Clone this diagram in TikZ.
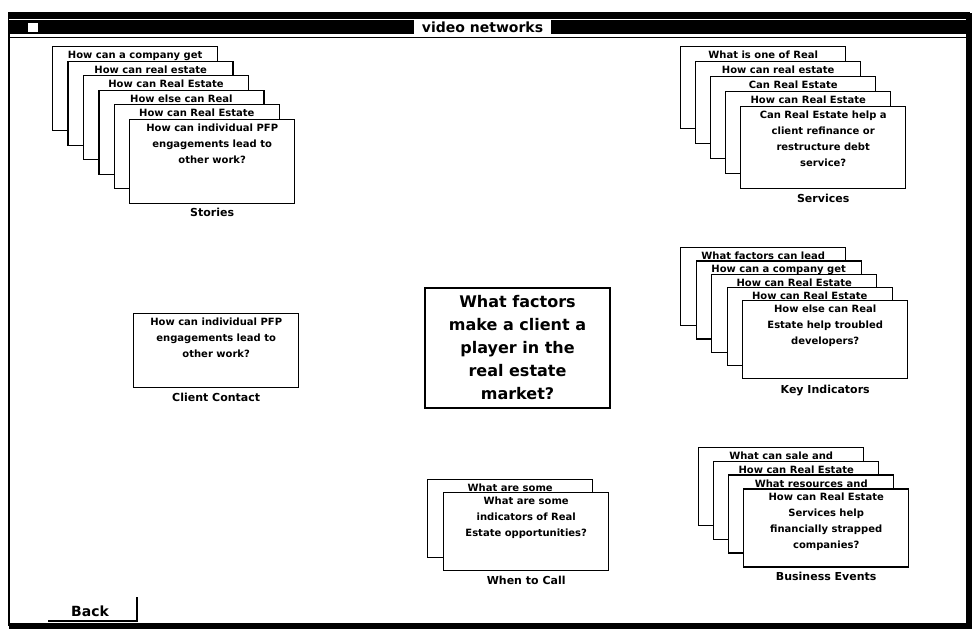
\documentclass[tikz,border=0pt]{standalone}
\usepackage{fontspec}
\setmainfont{DejaVu Sans}
\usetikzlibrary{positioning}
\tikzset{
  card/.style={draw,line width=1.4pt,fill=white,inner xsep=2pt,inner ysep=0pt,anchor=north west,font=\fontsize{10}{16}\selectfont\bfseries},
  stacklabel/.style={font=\fontsize{11}{13}\selectfont\bfseries,inner sep=1pt},
  bigcard/.style={draw,line width=1.4pt,minimum width=185pt,minimum height=120pt,align=center,font=\fontsize{16}{23}\selectfont\bfseries},
}
\newcommand{\cardtxt}[2][78pt]{\parbox[c][#1][t]{161pt}{\centering\rule{0pt}{12pt}#2}}

\begin{document}
\begin{tikzpicture}[x=1pt,y=-1pt]
    \useasboundingbox (0,0) rectangle (976,634);
    \fill[white] (0,0) rectangle (976,634);
    % window frame
    \draw[line width=2pt] (9,13) rectangle (968,625);
    \fill (9,12) rectangle (970,34);
    \draw[white,line width=1pt] (9,19.5) -- (970,19.5);
    \draw[line width=1pt] (9,38) -- (968,38);
    \fill (966,13) rectangle (972,629);
    \fill (9,623) rectangle (972,629);
    \draw[fill=white] (27,22) rectangle (38,32);
    \node[fill=white,minimum width=137pt,minimum height=14pt,inner sep=0pt,font=\fontsize{14}{16}\selectfont\bfseries] (title) at (482.5,27) {video networks};
    % stories
    \foreach \i/\t in {1/How can a company get,2/How can real estate,3/How can Real Estate,4/How else can Real,5/How can Real Estate,6/{How can individual PFP\\engagements lead to\\other work?}}
      \node[card] (st\i) at ({52+15.4*(\i-1)},{46+14.5*(\i-1)}) {\cardtxt[84pt]{\t}};
    \node[stacklabel,below=3pt of st6] (stories) {Stories};
    % services
    \foreach \i/\t in {1/What is one of Real,2/How can real estate,3/Can Real Estate,4/How can Real Estate,5/{Can Real Estate help a\\client refinance or\\restructure debt\\service?}}
      \node[card] (sv\i) at ({680+15*(\i-1)},{46+15*(\i-1)}) {\cardtxt[82pt]{\t}};
    \node[stacklabel,below=4pt of sv5] (services) {Services};
    % key indicators
    \foreach \i/\t in {1/What factors can lead,2/How can a company get,3/How can Real Estate,4/How can Real Estate,5/{How else can Real\\Estate help troubled\\developers?}}
      \node[card] (ki\i) at ({680+15.5*(\i-1)},{247+13.25*(\i-1)}) {\cardtxt{\t}};
    \node[stacklabel,below=5pt of ki5] (keyind) {Key Indicators};
    % business events
    \foreach \i/\t in {1/What can sale and,2/How can Real Estate,3/What resources and,4/{How can Real Estate\\Services help\\financially strapped\\companies?}}
      \node[card] (be\i) at ({698+15*(\i-1)},{447+13.7*(\i-1)}) {\cardtxt{\t}};
    \node[stacklabel,below=3pt of be4] (busev) {Business Events};
    % when to call
    \foreach \i/\t in {1/What are some,2/{What are some\\indicators of Real\\Estate opportunities?}}
      \node[card] (wc\i) at ({427+16*(\i-1)},{479+13*(\i-1)}) {\cardtxt{\t}};
    \node[stacklabel,below=4pt of wc2] (whencall) {When to Call};
    % client contact
    \node[card] (cc) at (133,313) {\cardtxt[74pt]{How can individual PFP\\engagements lead to\\other work?}};
    \node[stacklabel,below=4pt of cc] (client) {Client Contact};
    % centre
    \node[bigcard] (q) at (517.5,348) {What factors\\make a client a\\player in the\\real estate\\market?};
    % back button
    \node[font=\fontsize{14}{16}\selectfont\bfseries] (back) at (90,611) {Back};
    \draw[line width=1.5pt] (48,621) -| (137,597);
\end{tikzpicture}
\end{document}
